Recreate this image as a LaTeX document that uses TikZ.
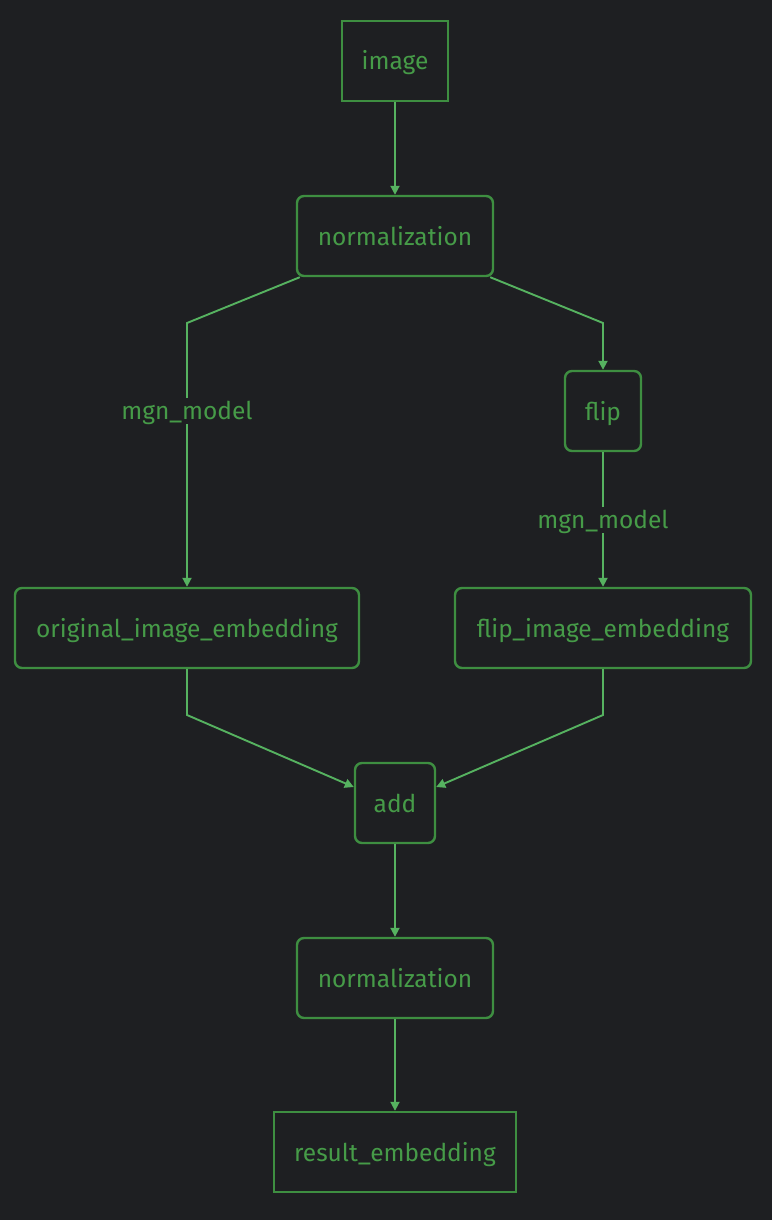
\documentclass[tikz,border=0pt]{standalone}
\usepackage{fontspec}
\setmainfont{Fira Sans}
\usetikzlibrary{arrows.meta,calc}
\definecolor{bg}{RGB}{30,31,34}
\definecolor{boxline}{RGB}{62,142,65}
\definecolor{edgeline}{RGB}{86,178,96}
\definecolor{txt}{RGB}{70,155,72}
\begin{document}
\begin{tikzpicture}[x=1pt,y=-1pt,
  every node/.style={font=\fontsize{24.5}{28}\selectfont, text=txt, text height=20pt, text depth=2pt},
  sq/.style={draw=boxline, line width=2.4pt, fill=bg, inner sep=0pt},
  rd/.style={sq, rounded corners=7pt},
  lbl/.style={fill=bg, inner sep=2pt},
  conn/.style={draw=edgeline, line width=1.9pt, -{Triangle[length=9pt,width=9pt]}}]
\fill[bg] (0,0) rectangle (772,1220);
\useasboundingbox (0,0) rectangle (772,1220);

\node[sq, minimum width=106pt, minimum height=80pt] (img) at (395,61) {image};
\node[rd, minimum width=196pt, minimum height=80pt] (n1) at (395,236) {normalization};
\node[rd, minimum width=76pt, minimum height=80pt] (flip) at (603,411) {flip};
\node[rd, minimum width=344pt, minimum height=80pt] (orig) at (187,628) {original\_image\_embedding};
\node[rd, minimum width=296pt, minimum height=80pt] (femb) at (603,628) {flip\_image\_embedding};
\node[rd, minimum width=80pt, minimum height=80pt] (add) at (395,803) {add};
\node[rd, minimum width=196pt, minimum height=80pt] (n2) at (395,978) {normalization};
\node[sq, minimum width=242pt, minimum height=80pt] (res) at (395,1152) {result\_embedding};

\coordinate (c1) at (187,323);
\coordinate (c2) at (603,323);
\coordinate (c3) at (187,715);
\coordinate (c4) at (603,715);

\draw[conn] (img) -- (n1);
\draw[conn] ($(n1.south west)+(4,0)$) -- (c1) -- (orig.north -| c1)
  node[pos=0.333, lbl] (l1) {mgn\_model};
\draw[conn] ($(n1.south east)+(-4,0)$) -- (c2) -- (flip);
\draw[conn] (flip) -- (femb) node[midway, lbl] (l2) {mgn\_model};
\draw[conn] (orig.south -| c3) -- (c3) -- ($(add.west)+(0,-16)$);
\draw[conn] (femb.south -| c4) -- (c4) -- ($(add.east)+(0,-16)$);
\draw[conn] (add) -- (n2);
\draw[conn] (n2) -- (res);
\end{tikzpicture}
\end{document}
